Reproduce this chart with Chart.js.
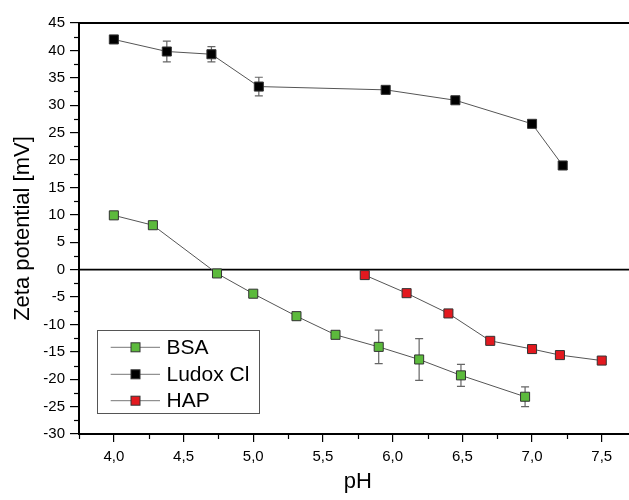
<!DOCTYPE html>
<html>
<head>
<meta charset="utf-8">
<script src="https://cdn.jsdelivr.net/npm/chart.js@4/dist/chart.umd.min.js"></script>
<style>
html,body{margin:0;padding:0;background:#fff;overflow:hidden;}
#wrap{width:629px;height:500px;position:relative;overflow:hidden;}
#c{position:absolute;left:0;top:0;}
</style>
</head>
<body>
<div id="wrap"><canvas id="c" width="644" height="500"></canvas></div>
<script>
// ---- data ----
const seriesNames = ["BSA", "Ludox Cl", "HAP"];
const bsaPH   = [4.00, 4.28, 4.74, 5.00, 5.31, 5.59, 5.90, 6.19, 6.49, 6.95];
const bsaZeta = [9.9, 8.1, -0.7, -4.4, -8.5, -11.9, -14.1, -16.4, -19.3, -23.2];
const bsaErr  = [0.3, 0.5, 0.5, 0.5, 0.7, 0.5, 3.05, 3.8, 2.0, 1.8];
const ludoxPH   = [4.00, 4.38, 4.70, 5.04, 5.95, 6.45, 7.00, 7.22];
const ludoxZeta = [42.0, 39.8, 39.3, 33.4, 32.8, 30.9, 26.6, 19.0];
const ludoxErr  = [0, 1.9, 1.4, 1.7, 0, 0, 0, 0];
const hapPH   = [5.80, 6.10, 6.40, 6.70, 7.00, 7.20, 7.50];
const hapZeta = [-1.0, -4.3, -8.0, -13.0, -14.5, -15.6, -16.6];
const hapErr  = [0.5, 0.5, 0.5, 0.5, 0.8, 0.5, 0.5];
const xTickValues = [4.0, 4.5, 5.0, 5.5, 6.0, 6.5, 7.0, 7.5];
const yTickValues = [-30, -25, -20, -15, -10, -5, 0, 5, 10, 15, 20, 25, 30, 35, 40, 45];
const xMinorValues = [3.75, 4.25, 4.75, 5.25, 5.75, 6.25, 6.75, 7.25];
const yMinorValues = [-27.5, -22.5, -17.5, -12.5, -7.5, -2.5, 2.5, 7.5, 12.5, 17.5, 22.5, 27.5, 32.5, 37.5, 42.5];
const xTitle = "pH";
const yTitle = "Zeta potential [mV]";

const FONT = "'Liberation Sans', Arial, sans-serif";
const colors = {BSA: "#5cba3c", "Ludox Cl": "#000000", HAP: "#e3191f"};

function pts(xs, ys) { return xs.map((x, i) => ({x: x, y: ys[i]})); }

function mkDs(name, xs, ys, errs) {
  return {
    label: name,
    data: pts(xs, ys),
    errors: errs,
    showLine: true,
    borderColor: "#555555",
    borderWidth: 1,
    pointStyle: "rect",
    pointRadius: 6.4,
    pointHoverRadius: 6.4,
    pointBackgroundColor: colors[name],
    pointBorderColor: "#333333",
    pointBorderWidth: 1,
    clip: false
  };
}

const decor = {
  id: "decor",
  beforeDatasetsDraw(chart) {
    const ctx = chart.ctx, xs = chart.scales.x, ys = chart.scales.y, a = chart.chartArea;
    ctx.save();
    ctx.strokeStyle = "#000"; ctx.lineWidth = 1.6;
    const y0 = ys.getPixelForValue(0);
    ctx.beginPath(); ctx.moveTo(a.left, y0); ctx.lineTo(a.right, y0); ctx.stroke();
    ctx.lineWidth = 2;
    const yt = ys.getPixelForValue(45);
    ctx.beginPath(); ctx.moveTo(a.left, yt); ctx.lineTo(a.right, yt); ctx.stroke();
    ctx.lineWidth = 1.2;
    xMinorValues.forEach(v => {
      const px = Math.round(xs.getPixelForValue(v)) + 0.5;
      ctx.beginPath(); ctx.moveTo(px, a.bottom); ctx.lineTo(px, a.bottom + 5); ctx.stroke();
    });
    yMinorValues.forEach(v => {
      const py = Math.round(ys.getPixelForValue(v)) + 0.5;
      ctx.beginPath(); ctx.moveTo(a.left, py); ctx.lineTo(a.left - 5, py); ctx.stroke();
    });
    ctx.strokeStyle = "#666666"; ctx.lineWidth = 1.2;
    chart.data.datasets.forEach(ds => {
      ds.data.forEach((p, i) => {
        const e = ds.errors[i];
        if (!e) return;
        const px = xs.getPixelForValue(p.x);
        const pTop = ys.getPixelForValue(p.y + e), pBot = ys.getPixelForValue(p.y - e);
        ctx.beginPath();
        ctx.moveTo(px, pTop); ctx.lineTo(px, pBot);
        ctx.moveTo(px - 4, pTop); ctx.lineTo(px + 4, pTop);
        ctx.moveTo(px - 4, pBot); ctx.lineTo(px + 4, pBot);
        ctx.stroke();
      });
    });
    ctx.restore();
  },
  afterDraw(chart) {
    const ctx = chart.ctx;
    ctx.save();
    const bx = 97.5, by = 330.5, bw = 162, bh = 83;
    ctx.fillStyle = "#fff"; ctx.fillRect(bx, by, bw, bh);
    ctx.strokeStyle = "#555"; ctx.lineWidth = 1;
    ctx.strokeRect(bx, by, bw, bh);
    const rows = [347.3, 374.3, 400.7];
    ctx.font = "21px " + FONT;
    ctx.textBaseline = "middle";
    chart.data.datasets.forEach((ds, i) => {
      const cy = rows[i];
      ctx.strokeStyle = "#777"; ctx.lineWidth = 1;
      ctx.beginPath(); ctx.moveTo(110.7, cy); ctx.lineTo(160, cy); ctx.stroke();
      ctx.fillStyle = colors[ds.label];
      ctx.fillRect(131, cy - 4.5, 9, 9);
      ctx.strokeStyle = "#333";
      ctx.strokeRect(131, cy - 4.5, 9, 9);
      ctx.fillStyle = "#000";
      ctx.fillText(ds.label, 166.5, cy + 1);
    });
    ctx.restore();
  }
};

new Chart(document.getElementById("c"), {
  type: "scatter",
  data: {
    datasets: [
      mkDs(seriesNames[0], bsaPH, bsaZeta, bsaErr),
      mkDs(seriesNames[1], ludoxPH, ludoxZeta, ludoxErr),
      mkDs(seriesNames[2], hapPH, hapZeta, hapErr)
    ]
  },
  options: {
    responsive: false,
    animation: false,
    layout: {padding: {top: 23, right: 0, left: 0, bottom: 0}},
    plugins: {legend: {display: false}, tooltip: {enabled: false}},
    scales: {
      x: {
        type: "linear",
        min: 3.75, max: 7.75,
        afterFit(s) { s.height = 66; s.paddingRight = 0; s.paddingLeft = 0; },
        afterBuildTicks(s) { s.ticks = xTickValues.map(v => ({value: v})); },
        grid: {drawOnChartArea: false, drawTicks: true, tickLength: 8, color: "#000", lineWidth: 1.2},
        border: {display: true, color: "#000", width: 2},
        ticks: {
          color: "#000", padding: 6, maxRotation: 0, autoSkip: false,
          font: {family: FONT, size: 15},
          callback: v => v.toFixed(1).replace(".", ",")
        },
        title: {display: true, text: xTitle, color: "#000", font: {family: FONT, size: 22}, padding: {top: 0, bottom: 5}}
      },
      y: {
        type: "linear",
        min: -30, max: 45,
        afterFit(s) { s.width = 79; s.paddingTop = 0; s.paddingBottom = 0; },
        afterBuildTicks(s) { s.ticks = yTickValues.map(v => ({value: v})); },
        grid: {drawOnChartArea: false, drawTicks: true, tickLength: 9, color: "#000", lineWidth: 1.2},
        border: {display: true, color: "#000", width: 2},
        ticks: {
          color: "#000", padding: 5, autoSkip: false,
          font: {family: FONT, size: 15},
          callback: v => String(v)
        },
        title: {display: true, text: yTitle, color: "#000", font: {family: FONT, size: 22}, padding: {top: 10, bottom: 0}}
      }
    }
  },
  plugins: [decor]
});
</script>
</body>
</html>
